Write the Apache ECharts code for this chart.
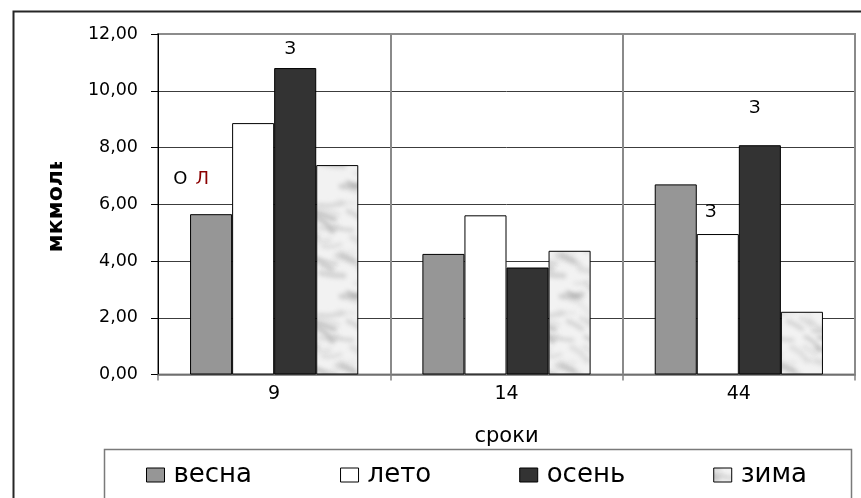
<!DOCTYPE html>
<html>
<head>
<meta charset="utf-8">
<script src="https://cdn.jsdelivr.net/npm/echarts@6/dist/echarts.min.js"></script>
<style>
  html, body { margin: 0; padding: 0; background: #ffffff; }
  #chart { width: 861px; height: 498px; }
</style>
</head>
<body>
<div id="chart"></div>
<script>
// --- data ---
const categories = ['9', '14', '44'];
const seriesNames = ['весна', 'лето', 'осень', 'зима'];
const spring = [5.65, 4.25, 6.70];
const summer = [8.86, 5.61, 4.95];
const autumn = [10.80, 3.77, 8.08];
const winter = [7.38, 4.36, 2.21];
const yTickLabels = ['0,00', '2,00', '4,00', '6,00', '8,00', '10,00', '12,00'];
const xAxisTitle = 'сроки';
const yAxisTitle = 'мкмоль';

// significance letters written above the bars
const springNotes = [['О', 'Л'], [], []];
const summerNotes = [[], [], ['З']];
const autumnNotes = [['З'], [], ['З']];
const winterNotes = [[], [], []];

// --- presentation ---
const FONT = '"DejaVu Sans", "Liberation Sans", Arial, sans-serif';

// label nudges for the letter groups: [dx, dy] per series / category index
const noteOffsets = {
  'весна-0': [-20, -26],
  'лето-2': [-7, -13],
  'осень-0': [-5, -10],
  'осень-2': [-5, -28]
};

// soft grey "marble" fill for the winter bars
function marbleTexture() {
  const N = 110;
  const c = document.createElement('canvas');
  c.width = N; c.height = N;
  const ctx = c.getContext('2d');
  ctx.fillStyle = '#f2f2f2';
  ctx.fillRect(0, 0, N, N);
  let s = 2024;
  const rnd = () => { s = (s * 1103515245 + 12345) % 2147483648; return s / 2147483648; };
  ctx.filter = 'blur(2px)';
  for (let i = 0; i < 50; i++) {
    const x = rnd() * N, y = rnd() * N;
    const len = 8 + rnd() * 16;
    const ang = 0.3 + (rnd() - 0.5) * 0.9;
    const g = Math.round(150 + rnd() * 60);
    ctx.strokeStyle = 'rgba(' + g + ',' + g + ',' + g + ',' + (0.3 + rnd() * 0.3) + ')';
    ctx.lineWidth = 2 + rnd() * 4;
    ctx.lineCap = 'round';
    ctx.beginPath();
    for (let dx = -N; dx <= N; dx += N) {
      for (let dy = -N; dy <= N; dy += N) {
        ctx.moveTo(x + dx, y + dy);
        ctx.quadraticCurveTo(x + dx + len * 0.5, y + dy + len * Math.sin(ang) * 0.2 + 2,
          x + dx + len * Math.cos(ang), y + dy + len * Math.sin(ang));
      }
    }
    ctx.stroke();
  }
  ctx.filter = 'none';
  return c;
}

const seriesStyle = {
  'весна': { color: '#969696' },
  'лето': { color: '#ffffff' },
  'осень': { color: '#333333' },
  'зима': { color: { image: marbleTexture(), repeat: 'repeat' } }
};

const noteRich = {
  k: { color: '#000000', fontSize: 18, fontFamily: FONT },
  r: { color: '#8b0000', fontSize: 18, fontFamily: FONT },
  sp: { fontSize: 18, width: 8 }
};

function buildData(name, values, notes) {
  return values.map((v, i) => {
    const letters = notes[i];
    if (!letters.length) return { value: v };
    const text = letters.map(ch => '{' + (ch === 'Л' ? 'r' : 'k') + '|' + ch + '}').join('{sp| }');
    const off = noteOffsets[name + '-' + i] || [0, 0];
    return {
      value: v,
      label: {
        show: true,
        position: 'top',
        distance: 0,
        offset: off,
        formatter: () => text,
        rich: noteRich
      }
    };
  });
}

const valueSets = [spring, summer, autumn, winter];
const noteSets = [springNotes, summerNotes, autumnNotes, winterNotes];

const series = seriesNames.map((name, k) => ({
  name: name,
  type: 'bar',
  barGap: '0%',
  barCategoryGap: '27.6%',
  itemStyle: {
    color: seriesStyle[name].color,
    borderColor: '#000000',
    borderWidth: 1
  },
  emphasis: { disabled: true },
  label: { show: false },
  data: buildData(name, valueSets[k], noteSets[k])
}));

const chart = echarts.init(document.getElementById('chart'), null, { renderer: 'canvas' });
chart.setOption({
  animation: false,
  backgroundColor: '#ffffff',
  textStyle: { fontFamily: FONT },
  grid: {
    left: 158, right: 6, top: 34, bottom: 123.5,
    show: true, borderColor: '#8c8c8c', borderWidth: 2, backgroundColor: 'transparent'
  },
  legend: {
    left: 146, top: 462,
    padding: 0,
    itemGap: 88,
    itemWidth: 18, itemHeight: 14,
    icon: 'rect',
    itemStyle: { borderColor: '#000000', borderWidth: 1 },
    textStyle: { fontSize: 26, color: '#000000', fontFamily: FONT, padding: [0, 0, 0, 4] },
    data: seriesNames,
    selectedMode: false
  },
  xAxis: {
    type: 'category',
    data: categories,
    name: xAxisTitle,
    nameLocation: 'middle',
    nameGap: 52,
    nameTextStyle: { fontSize: 21, color: '#000000', fontFamily: FONT },
    axisLine: { lineStyle: { color: '#808080', width: 1.5 } },
    axisTick: { show: true, length: 6, lineStyle: { color: '#808080', width: 1.5 } },
    axisLabel: { fontSize: 19, color: '#000000', margin: 10, fontFamily: FONT },
    splitLine: { show: true, showMinLine: false, lineStyle: { color: '#8a8a8a', width: 2 } }
  },
  yAxis: {
    type: 'value',
    min: 0, max: 12, interval: 2,
    name: yAxisTitle,
    nameLocation: 'middle',
    nameGap: 91,
    nameRotate: 90,
    nameTextStyle: { fontSize: 22, fontWeight: 'bold', color: '#000000', fontFamily: FONT },
    axisLine: { show: true, lineStyle: { color: '#000000', width: 1 } },
    axisTick: { show: true, length: 7, lineStyle: { color: '#000000', width: 1 } },
    axisLabel: {
      fontSize: 17.5, color: '#000000', margin: 20, fontFamily: FONT,
      formatter: v => yTickLabels[Math.round(v / 2)]
    },
    splitLine: { show: true, showMaxLine: false, lineStyle: { color: '#3c3c3c', width: 1 } }
  },
  graphic: [
    // outer chart frame
    { type: 'rect', left: 11, top: 9, z: 100, silent: true,
      shape: { width: 1000, height: 1000 },
      style: { fill: null, stroke: '#262626', lineWidth: 2 } },
    // legend frame
    { type: 'rect', left: 102, top: 447, z: 100, silent: true,
      shape: { width: 747, height: 200 },
      style: { fill: null, stroke: '#7a7a7a', lineWidth: 1.5 } },
    // the axis title is cut off at its upper end
    { type: 'rect', left: 35, top: 120, z: 100, silent: true,
      shape: { width: 45, height: 42 },
      style: { fill: '#ffffff', stroke: null } }
  ],
  series: series
});
</script>
</body>
</html>
